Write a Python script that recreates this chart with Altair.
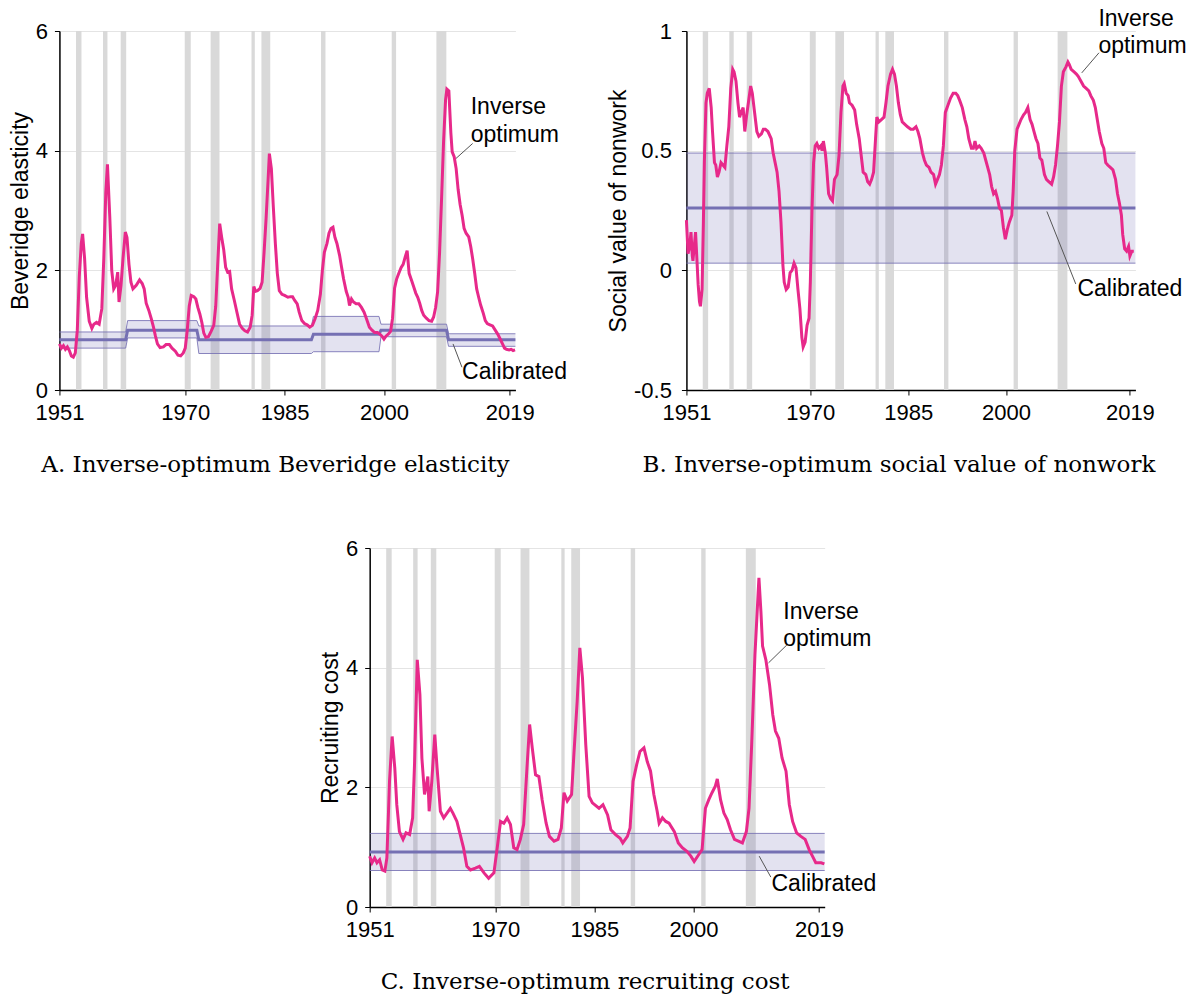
import altair as alt
import pandas as pd

# ---------------- data ----------------
rec_start = [1953.5, 1957.58, 1960.25, 1969.92, 1973.83, 1980.0, 1981.5, 1990.5, 2001.17, 2007.92]
rec_end = [1954.33, 1958.25, 1961.08, 1970.83, 1975.17, 1980.5, 1982.83, 1991.17, 2001.83, 2009.42]
x_ticks = [1951, 1970, 1985, 2000, 2019]

# Panel A: inverse-optimum Beveridge elasticity
a_year = [1951.0, 1951.3, 1951.6, 1951.9, 1952.2, 1952.5, 1952.8, 1953.1, 1953.4, 1953.7, 1954.0, 1954.3,
          1954.5, 1954.8, 1955.1, 1955.5, 1955.9, 1956.2, 1956.6, 1957.0, 1957.4, 1957.7, 1958.0, 1958.25,
          1958.6, 1958.9, 1959.2, 1959.5, 1959.8, 1960.0, 1960.3, 1960.6, 1960.95, 1961.2, 1961.5, 1961.8,
          1962.1, 1962.6, 1963.1, 1963.5, 1963.8, 1964.1, 1964.5, 1964.9, 1965.2, 1965.5, 1965.8, 1966.2,
          1966.7, 1967.1, 1967.6, 1968.0, 1968.5, 1968.9, 1969.3, 1969.7, 1970.0, 1970.3, 1970.6, 1970.9,
          1971.3, 1971.6, 1971.9, 1972.2, 1972.5, 1972.8, 1973.1, 1973.5, 1973.9, 1974.3, 1974.6, 1974.9,
          1975.2, 1975.5, 1975.8, 1976.1, 1976.4, 1976.7, 1977.0, 1977.4, 1977.8, 1978.2, 1978.6, 1979.0,
          1979.4, 1979.8, 1980.1, 1980.35, 1980.6, 1980.9, 1981.3, 1981.6, 1981.9, 1982.2, 1982.5, 1982.7,
          1983.0, 1983.3, 1983.6, 1983.9, 1984.2, 1984.6, 1985.0, 1985.5, 1985.9, 1986.2, 1986.5, 1986.9,
          1987.2, 1987.6, 1988.0, 1988.4, 1988.8, 1989.2, 1989.6, 1990.0, 1990.4, 1990.7, 1991.0, 1991.4,
          1991.7, 1992.0, 1992.3, 1992.6, 1992.9, 1993.3, 1993.6, 1993.9, 1994.3, 1994.6, 1994.8, 1995.1,
          1995.4, 1995.8, 1996.2, 1996.6, 1997.0, 1997.4, 1997.8, 1998.2, 1998.6, 1999.0, 1999.3, 1999.7,
          2000.0, 2000.3, 2000.7, 2001.0, 2001.3, 2001.6, 2001.9, 2002.2, 2002.6, 2002.9, 2003.2, 2003.5,
          2003.8, 2004.2, 2004.5, 2004.8, 2005.1, 2005.4, 2005.7, 2006.0, 2006.4, 2006.8, 2007.2, 2007.5,
          2007.8, 2008.1, 2008.4, 2008.7, 2009.0, 2009.3, 2009.5, 2009.8, 2010.1, 2010.3, 2010.6, 2010.9,
          2011.2, 2011.5, 2011.8, 2012.1, 2012.4, 2012.8, 2013.1, 2013.4, 2013.7, 2014.0, 2014.3, 2014.6,
          2015.0, 2015.3, 2015.6, 2016.0, 2016.4, 2016.8, 2017.2, 2017.6, 2017.9, 2018.2, 2018.5, 2018.9,
          2019.2, 2019.5, 2019.8]
a_val = [0.77, 0.70, 0.74, 0.68, 0.72, 0.66, 0.57, 0.55, 0.62, 1.00, 1.90, 2.45,
         2.61, 2.20, 1.55, 1.15, 1.03, 1.10, 1.13, 1.10, 1.36, 2.20, 3.30, 3.77,
         2.90, 2.00, 1.69, 1.75, 1.97, 1.47, 1.75, 2.20, 2.64, 2.55, 2.10, 1.80,
         1.69, 1.75, 1.84, 1.78, 1.69, 1.45, 1.33, 1.18, 1.05, 0.90, 0.77, 0.71,
         0.72, 0.76, 0.76, 0.70, 0.65, 0.58, 0.57, 0.62, 0.70, 1.00, 1.40, 1.58,
         1.56, 1.52, 1.38, 1.27, 1.13, 0.95, 0.88, 0.89, 0.98, 1.08, 1.40, 2.10,
         2.78, 2.55, 2.35, 2.05, 1.97, 1.98, 1.69, 1.50, 1.30, 1.10, 1.03, 0.99,
         0.97, 1.05, 1.25, 1.73, 1.65, 1.66, 1.70, 1.80, 2.30, 2.86, 3.50, 3.95,
         3.70, 3.05, 2.45, 1.95, 1.66, 1.60, 1.58, 1.55, 1.56, 1.56, 1.50, 1.44,
         1.30, 1.16, 1.11, 1.09, 1.05, 1.08, 1.19, 1.33, 1.60, 2.00, 2.30, 2.45,
         2.62, 2.70, 2.72, 2.55, 2.45, 2.25, 2.05, 1.86, 1.65, 1.55, 1.41, 1.52,
         1.47, 1.44, 1.44, 1.38, 1.30, 1.18, 1.05, 1.00, 0.96, 0.96, 0.94, 0.90,
         0.85, 0.90, 0.94, 0.98, 1.20, 1.70, 1.85, 1.94, 2.05, 2.10, 2.22, 2.33,
         1.95, 1.82, 1.72, 1.62, 1.55, 1.45, 1.33, 1.25, 1.20, 1.16, 1.15, 1.22,
         1.38, 1.64, 2.30, 3.20, 4.15, 4.85, 5.03, 5.00, 4.30, 3.98, 3.90, 3.70,
         3.35, 3.10, 2.92, 2.70, 2.62, 2.56, 2.40, 2.19, 1.95, 1.69, 1.55, 1.42,
         1.28, 1.16, 1.11, 1.09, 1.07, 1.00, 0.93, 0.84, 0.77, 0.70, 0.68, 0.67,
         0.68, 0.66, 0.67]
a_cal_year = [1951.0, 1961.0, 1961.3, 1971.75, 1972.05, 1989.05, 1989.35, 1999.25, 1999.55, 2009.45, 2009.75, 2019.85]
a_cal_mid = [0.84, 0.84, 1.00, 1.00, 0.84, 0.84, 0.93, 0.93, 1.00, 1.00, 0.84, 0.84]
a_cal_lo = [0.70, 0.70, 0.87, 0.87, 0.61, 0.61, 0.64, 0.64, 0.89, 0.89, 0.73, 0.73]
a_cal_hi = [0.97, 0.97, 1.16, 1.16, 1.07, 1.07, 1.23, 1.23, 1.10, 1.10, 0.94, 0.94]

# Panel B: inverse-optimum social value of nonwork
b_year = [1951.0, 1951.25, 1951.5, 1951.7, 1951.9, 1952.0, 1952.2, 1952.4, 1952.6, 1952.8, 1953.0, 1953.15,
          1953.4, 1953.6, 1953.75, 1954.0, 1954.2, 1954.5, 1954.8, 1955.0, 1955.3, 1955.5, 1955.75, 1956.0,
          1956.3, 1956.6, 1956.9, 1957.2, 1957.5, 1957.8, 1958.1, 1958.3, 1958.6, 1958.9, 1959.15, 1959.4,
          1959.7, 1959.95, 1960.2, 1960.5, 1960.85, 1961.1, 1961.45, 1961.8, 1962.1, 1962.5, 1962.8, 1963.1,
          1963.5, 1964.0, 1964.3, 1964.6, 1964.9, 1965.2, 1965.5, 1965.8, 1966.0, 1966.3, 1966.6, 1966.9,
          1967.2, 1967.5, 1967.8, 1968.1, 1968.4, 1968.7, 1968.9, 1969.2, 1969.5, 1969.8, 1970.0, 1970.25,
          1970.5, 1970.75, 1971.0, 1971.3, 1971.6, 1971.8, 1972.0, 1972.3, 1972.5, 1972.8, 1973.1, 1973.4,
          1973.7, 1974.1, 1974.4, 1974.7, 1975.0, 1975.2, 1975.5, 1975.8, 1976.0, 1976.4, 1976.8, 1977.1,
          1977.5, 1977.8, 1978.1, 1978.5, 1978.8, 1979.1, 1979.4, 1979.7, 1980.0, 1980.2, 1980.5, 1980.9,
          1981.3, 1981.6, 1981.9, 1982.3, 1982.6, 1982.9, 1983.2, 1983.5, 1983.8, 1984.1, 1984.5, 1984.9,
          1985.4, 1985.8, 1986.2, 1986.5, 1986.8, 1987.2, 1987.5, 1987.8, 1988.2, 1988.5, 1988.9, 1989.2,
          1989.5, 1989.8, 1990.1, 1990.4, 1990.7, 1991.1, 1991.5, 1991.9, 1992.3, 1992.6, 1992.9, 1993.3,
          1993.7, 1994.0, 1994.3, 1994.7, 1995.0, 1995.25, 1995.5, 1995.9, 1996.2, 1996.6, 1996.9, 1997.2,
          1997.5, 1997.8, 1998.1, 1998.4, 1998.7, 1999.0, 1999.3, 1999.6, 1999.9, 2000.2, 2000.5, 2000.9,
          2001.1, 2001.35, 2001.7, 2002.0, 2002.3, 2002.7, 2003.0, 2003.35, 2003.7, 2004.0, 2004.3, 2004.6,
          2004.9, 2005.2, 2005.5, 2005.9, 2006.2, 2006.6, 2007.0, 2007.3, 2007.6, 2007.9, 2008.2, 2008.5,
          2008.8, 2009.2, 2009.5, 2009.7, 2010.0, 2010.4, 2010.8, 2011.1, 2011.5, 2011.9, 2012.3, 2012.7,
          2013.0, 2013.4, 2013.7, 2014.0, 2014.3, 2014.7, 2015.0, 2015.3, 2015.6, 2016.0, 2016.4, 2016.8,
          2017.1, 2017.4, 2017.7, 2017.9, 2018.2, 2018.5, 2018.8, 2019.0, 2019.3, 2019.6]
b_val = [0.21, 0.07, 0.10, 0.16, 0.06, 0.04, 0.10, 0.16, 0.05, -0.06, -0.13, -0.15,
         -0.08, 0.20, 0.45, 0.70, 0.74, 0.76, 0.68, 0.58, 0.45, 0.44, 0.39, 0.41,
         0.45, 0.44, 0.43, 0.52, 0.60, 0.76, 0.84, 0.83, 0.79, 0.70, 0.64, 0.66,
         0.68, 0.58, 0.64, 0.70, 0.77, 0.74, 0.66, 0.58, 0.56, 0.57, 0.59, 0.59,
         0.58, 0.55, 0.49, 0.45, 0.41, 0.33, 0.20, 0.02, -0.05, -0.08, -0.07, -0.01,
         0.00, 0.03, 0.01, -0.08, -0.16, -0.28, -0.32, -0.30, -0.23, -0.20, -0.05, 0.25,
         0.45, 0.52, 0.53, 0.51, 0.52, 0.50, 0.54, 0.49, 0.43, 0.32, 0.30, 0.29,
         0.38, 0.40, 0.48, 0.66, 0.77, 0.78, 0.74, 0.73, 0.70, 0.69, 0.67, 0.61,
         0.55, 0.48, 0.41, 0.40, 0.37, 0.36, 0.38, 0.41, 0.55, 0.64, 0.62, 0.63,
         0.64, 0.70, 0.77, 0.82, 0.84, 0.82, 0.77, 0.70, 0.65, 0.62, 0.61, 0.60,
         0.59, 0.59, 0.60, 0.58, 0.55, 0.49, 0.46, 0.44, 0.43, 0.41, 0.40, 0.36,
         0.38, 0.40, 0.44, 0.52, 0.66, 0.69, 0.72, 0.74, 0.74, 0.73, 0.71, 0.68,
         0.63, 0.60, 0.55, 0.51, 0.51, 0.54, 0.51, 0.52, 0.51, 0.49, 0.46, 0.43,
         0.40, 0.35, 0.32, 0.33, 0.30, 0.26, 0.25, 0.18, 0.13, 0.17, 0.20, 0.23,
         0.33, 0.50, 0.59, 0.61, 0.63, 0.65, 0.66, 0.68, 0.63, 0.61, 0.58, 0.55,
         0.53, 0.47, 0.46, 0.40, 0.38, 0.37, 0.36, 0.39, 0.44, 0.52, 0.62, 0.77,
         0.83, 0.85, 0.87, 0.86, 0.84, 0.83, 0.82, 0.81, 0.79, 0.77, 0.76, 0.75,
         0.73, 0.71, 0.68, 0.63, 0.58, 0.53, 0.51, 0.45, 0.44, 0.43, 0.42, 0.38,
         0.32, 0.28, 0.23, 0.15, 0.09, 0.08, 0.10, 0.06, 0.08, 0.08]
b_cal_year = [1951.0, 2019.85]
b_cal_mid = [0.26, 0.26]
b_cal_lo = [0.03, 0.03]
b_cal_hi = [0.49, 0.49]

# Panel C: inverse-optimum recruiting cost
c_year = [1951.0, 1951.35, 1951.75, 1952.1, 1952.5, 1952.9, 1953.3, 1953.6, 1953.85, 1954.0, 1954.4, 1954.8,
          1955.1, 1955.5, 1956.05, 1956.5, 1957.05, 1957.5, 1957.8, 1958.2, 1958.6, 1958.9, 1959.3, 1959.5,
          1959.8, 1960.0, 1960.4, 1960.85, 1961.2, 1961.7, 1962.2, 1962.7, 1963.2, 1963.6, 1964.2, 1964.7,
          1965.2, 1965.7, 1966.25, 1967.0, 1967.6, 1968.3, 1969.0, 1969.8, 1970.3, 1970.8, 1971.3, 1971.8,
          1972.3, 1972.8, 1973.3, 1973.8, 1974.3, 1974.8, 1975.2, 1975.6, 1976.1, 1976.6, 1977.1, 1977.7,
          1978.2, 1978.9, 1979.5, 1980.0, 1980.4, 1980.9, 1981.55, 1981.9, 1982.4, 1982.8, 1983.2, 1983.7,
          1984.2, 1984.7, 1985.7, 1986.3, 1987.0, 1987.5, 1988.2, 1988.9, 1989.3, 1990.0, 1990.4, 1990.85,
          1991.4, 1991.9, 1992.5, 1993.0, 1993.5, 1994.0, 1994.5, 1994.8, 1995.3, 1995.8, 1996.3, 1997.1,
          1997.7, 1998.3, 1999.0, 1999.6, 2000.1, 2000.75, 2001.3, 2001.8, 2002.3, 2002.8, 2003.3, 2003.6,
          2004.1, 2004.6, 2005.1, 2005.6, 2006.2, 2006.8, 2007.4, 2008.0, 2008.4, 2008.8, 2009.3, 2009.9,
          2010.2, 2010.45, 2010.95, 2011.5, 2012.0, 2012.4, 2012.9, 2013.4, 2014.0, 2014.5, 2015.0, 2015.6,
          2016.25, 2016.9, 2017.5, 2018.0, 2018.5, 2019.3, 2019.8]
c_val = [0.85, 0.74, 0.82, 0.74, 0.79, 0.62, 0.60, 0.82, 1.60, 2.10, 2.85, 2.32,
         1.71, 1.26, 1.13, 1.24, 1.21, 1.49, 2.43, 4.13, 3.55, 2.49, 1.88, 1.99,
         2.18, 1.60, 2.10, 2.88, 2.32, 1.60, 1.49, 1.57, 1.65, 1.57, 1.43, 1.21,
         0.99, 0.68, 0.62, 0.65, 0.68, 0.57, 0.48, 0.57, 0.99, 1.43, 1.40, 1.49,
         1.38, 0.99, 0.96, 1.13, 1.38, 2.32, 3.05, 2.66, 2.21, 2.18, 1.79, 1.40,
         1.18, 1.10, 1.13, 1.32, 1.91, 1.77, 1.88, 2.55, 3.44, 4.33, 3.83, 2.71,
         1.85, 1.74, 1.65, 1.71, 1.54, 1.29, 1.21, 1.15, 1.07, 1.18, 1.32, 2.10,
         2.38, 2.60, 2.66, 2.43, 2.27, 1.88, 1.60, 1.40, 1.49, 1.43, 1.40, 1.26,
         1.07, 0.99, 0.93, 0.85, 0.76, 0.87, 0.96, 1.65, 1.79, 1.91, 2.02, 2.14,
         1.79, 1.57, 1.46, 1.29, 1.13, 1.10, 1.07, 1.26, 1.65, 2.71, 4.22, 5.50,
         4.94, 4.36, 4.13, 3.72, 3.21, 2.94, 2.82, 2.49, 2.27, 1.71, 1.43, 1.24,
         1.18, 1.13, 0.96, 0.85, 0.74, 0.74, 0.72]
c_cal_year = [1951.0, 2019.85]
c_cal_mid = [0.92, 0.92]
c_cal_lo = [0.61, 0.61]
c_cal_hi = [1.23, 1.23]

# annotation labels and leader lines (data coordinates)
a_lab_text = ["Inverse", "optimum", "Calibrated"]
a_lab_x = [2013.1, 2013.1, 2011.8]
a_lab_y = [4.61, 4.15, 0.18]
a_lead = [[2010.88, 3.87, 2013.39, 4.12], [2010.43, 0.77, 2011.78, 0.38]]

b_lab_text = ["Inverse", "optimum", "Calibrated"]
b_lab_x = [2014.17, 2014.17, 2010.96]
b_lab_y = [1.02, 0.91, -0.106]
b_lead = [[2011.62, 0.825, 2014.26, 0.909], [2006.27, 0.246, 2010.7, -0.057]]

c_lab_text = ["Inverse", "optimum", "Calibrated"]
c_lab_x = [2013.58, 2013.58, 2011.8]
c_lab_y = [4.82, 4.36, 0.26]
c_lead = [[2011.35, 4.08, 2014.13, 4.38], [2009.94, 0.85, 2011.7, 0.50]]

# ---------------- styling ----------------
PINK = "#e7298a"
PURPLE = "#7570b3"
REC = "#d9d9d9"
SANS = "Liberation Sans"
SERIF = "DejaVu Serif"
XMAX = 2019.85

rec_df = pd.DataFrame({"year": rec_start, "year_end": rec_end})


def panel(year, val, cy, clo, cmid, chi, ydom, yticks, ytitle, title,
          lab_text, lab_x, lab_y, leads, width, height=359, label_expr="format(datum.value, 'd')",
          ylab_pad=7, ytitle_pad=3):
    xs = alt.Scale(domain=[1951, XMAX], nice=False, zero=False)
    ys = alt.Scale(domain=ydom, nice=False, zero=False)
    xax = alt.Axis(values=x_ticks, format="d", grid=False, title=None, tickSize=5,
                   labelPadding=7, labelFlush=False, domainWidth=1.5, labelOverlap=False)
    yax = alt.Axis(values=yticks, grid=True, title=ytitle, tickSize=5, labelPadding=ylab_pad,
                   titlePadding=ytitle_pad, labelFlush=False, domainWidth=1.5, labelExpr=label_expr,
                   labelOverlap=False)
    X = alt.X("year:Q", scale=xs, axis=xax)

    series = pd.DataFrame({"year": year, "val": val})
    cal = pd.DataFrame({"year": cy, "lo": clo, "mid": cmid, "hi": chi})
    labs = pd.DataFrame({"year": lab_x, "val": lab_y, "label": lab_text})
    lead = pd.DataFrame(leads, columns=["year", "val", "year2", "val2"])

    rec = alt.Chart(rec_df).mark_rect(color=REC).encode(x=X, x2="year_end:Q")
    band = alt.Chart(cal).mark_area(color=PURPLE, opacity=0.2).encode(
        x=X, y=alt.Y("lo:Q", scale=ys, axis=yax), y2="hi:Q")
    lo = alt.Chart(cal).mark_line(color=PURPLE, strokeWidth=1, opacity=0.85).encode(
        x=X, y=alt.Y("lo:Q", scale=ys, axis=yax))
    hi = alt.Chart(cal).mark_line(color=PURPLE, strokeWidth=1, opacity=0.85).encode(
        x=X, y=alt.Y("hi:Q", scale=ys, axis=yax))
    mid = alt.Chart(cal).mark_line(color=PURPLE, strokeWidth=3).encode(
        x=X, y=alt.Y("mid:Q", scale=ys, axis=yax))
    line = alt.Chart(series).mark_line(color=PINK, strokeWidth=3).encode(
        x=X, y=alt.Y("val:Q", scale=ys, axis=yax))
    rules = alt.Chart(lead).mark_rule(color="#555555", strokeWidth=1).encode(
        x=X, y=alt.Y("val:Q", scale=ys, axis=yax), x2="year2:Q", y2="val2:Q")
    txt = alt.Chart(labs).mark_text(align="left", baseline="alphabetic", font=SANS,
                                    fontSize=23, color="black").encode(
        x=X, y=alt.Y("val:Q", scale=ys, axis=yax), text="label:N")

    return alt.layer(rec, band, lo, hi, mid, line, rules, txt).properties(
        width=width, height=height,
        title=alt.TitleParams(title, orient="bottom", anchor="middle", dx=-12, offset=31,
                              font=SERIF, fontSize=23, fontWeight="normal", color="black"))


A = panel(a_year, a_val, a_cal_year, a_cal_lo, a_cal_mid, a_cal_hi, [0, 6], [0, 2, 4, 6],
          "Beveridge elasticity", "A. Inverse-optimum Beveridge elasticity",
          a_lab_text, a_lab_x, a_lab_y, a_lead, 456)
B = panel(b_year, b_val, b_cal_year, b_cal_lo, b_cal_mid, b_cal_hi, [-0.5, 1], [-0.5, 0, 0.5, 1],
          "Social value of nonwork", "B. Inverse-optimum social value of nonwork",
          b_lab_text, b_lab_x, b_lab_y, b_lead, 449,
          label_expr="replace(format(datum.value, '~g'), '\u2212', '-')",
          ylab_pad=10, ytitle_pad=3)
C = panel(c_year, c_val, c_cal_year, c_cal_lo, c_cal_mid, c_cal_hi, [0, 6], [0, 2, 4, 6],
          "Recruiting cost", "C. Inverse-optimum recruiting cost",
          c_lab_text, c_lab_x, c_lab_y, c_lead, 455)

top = alt.hconcat(A, B, spacing=40)
chart = alt.vconcat(top, C, spacing=60, center=True).properties(
    padding={"left": 1, "top": 0, "right": 5, "bottom": 0}
).configure_axis(
    labelFont=SANS, titleFont=SANS, labelFontSize=22, titleFontSize=23,
    labelColor="black", titleColor="black", domainColor="black", tickColor="black",
    gridColor="#e4e4e4", gridWidth=1, titleFontWeight="normal"
).configure_view(strokeWidth=0)

chart.save("out.html", embed_options={"renderer": "svg", "actions": False})
